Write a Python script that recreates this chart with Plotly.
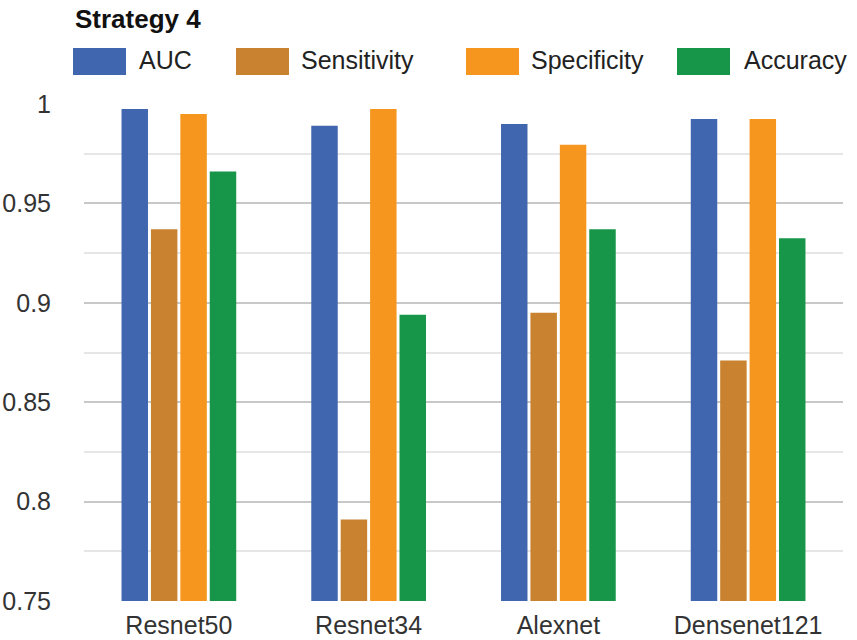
import plotly.graph_objects as go

categories = ["Resnet50", "Resnet34", "Alexnet", "Densenet121"]
series_names = ["AUC", "Sensitivity", "Specificity", "Accuracy"]
auc = [0.9975, 0.989, 0.990, 0.9925]
sensitivity = [0.937, 0.791, 0.895, 0.871]
specificity = [0.995, 0.9975, 0.9795, 0.9925]
accuracy = [0.966, 0.894, 0.937, 0.9325]
colors = ["#4166B0", "#C9822F", "#F7961E", "#17964A"]
y_ticks = [0.75, 0.8, 0.85, 0.9, 0.95, 1.0]
y_tick_labels = ["0.75", "0.8", "0.85", "0.9", "0.95", "1"]

W, H = 857, 640
L, R, T, B = 84, 14, 104, 39
PW, PH = W - L - R, H - T - B

def px(x):
    return (x - L) / PW

def py(y):
    return (H - B - y) / PH

fig = go.Figure()
for name, vals, col in zip(series_names, [auc, sensitivity, specificity, accuracy], colors):
    fig.add_trace(go.Bar(x=categories, y=vals, name=name, marker_color=col,
                         marker_line_width=0, showlegend=False))

FONT = "Liberation Sans, Arial, sans-serif"

# custom legend (large rectangular swatches)
swatch_x = [73, 236, 466, 677]
text_x = [137, 299, 529, 742]
for name, col, sx, tx in zip(series_names, colors, swatch_x, text_x):
    fig.add_shape(type="rect", xref="paper", yref="paper",
                  x0=px(sx), x1=px(sx + 53), y0=py(75), y1=py(48),
                  fillcolor=col, line=dict(width=0))
    fig.add_annotation(xref="paper", yref="paper", x=px(tx), y=py(60),
                       xanchor="left", yanchor="middle", showarrow=False,
                       text=name, font=dict(family=FONT, size=25, color="#222222"))

fig.add_annotation(xref="paper", yref="paper", x=px(73), y=py(19),
                   xanchor="left", yanchor="middle", showarrow=False,
                   text="<b>Strategy 4</b>", font=dict(family=FONT, size=26, color="#111111"))

fig.update_layout(
    width=W, height=H,
    margin=dict(l=L, r=R, t=T, b=B, pad=0, autoexpand=False),
    paper_bgcolor="white", plot_bgcolor="white",
    barmode="group", bargap=0.38, bargroupgap=0.1,
    font=dict(family=FONT, size=25, color="#333333"),
    showlegend=False,
    xaxis=dict(showgrid=False, showline=False, zeroline=False, ticks="",
               automargin=False,
               tickfont=dict(size=25, color="#333333"), ticklabelstandoff=7),
    yaxis=dict(range=[0.75, 1.0], tickvals=y_ticks, ticktext=y_tick_labels,
               automargin=False,
               showgrid=True, gridcolor="#C8C8C8", gridwidth=2,
               zeroline=False, showline=False, ticks="",
               tickfont=dict(size=25, color="#333333"), ticklabelstandoff=32,
               minor=dict(dtick=0.025, tick0=0.75, showgrid=True,
                          gridcolor="#E6E6E6", gridwidth=2)),
)

fig.write_html("out.html", config={"displayModeBar": False},
               post_script="document.body.style.margin='0';document.body.style.overflow='hidden';")
